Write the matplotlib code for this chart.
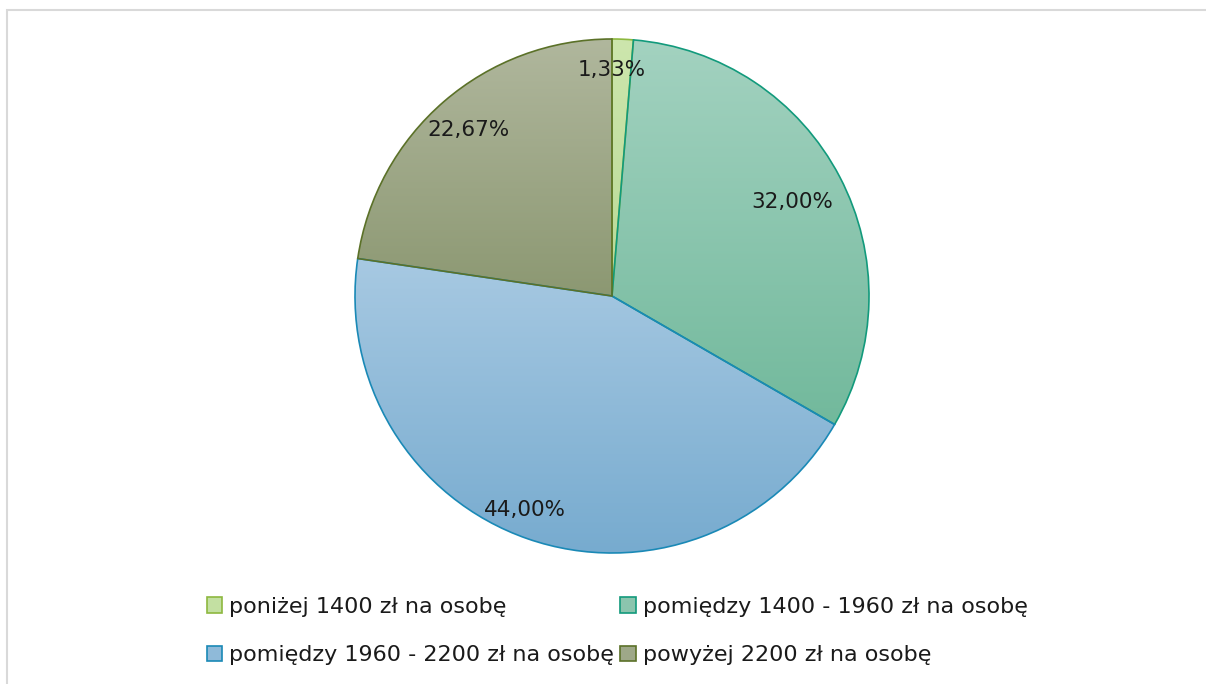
import matplotlib.pyplot as plt
import numpy as np
from matplotlib.colors import LinearSegmentedColormap, to_rgb
from matplotlib.patches import Patch, Rectangle

labels = ['poniżej 1400 zł na osobę', 'pomiędzy 1400 - 1960 zł na osobę',
          'pomiędzy 1960 - 2200 zł na osobę', 'powyżej 2200 zł na osobę']
shares = [1.33, 32.00, 44.00, 22.67]

# gradient (top, bottom) and outline colour per slice
tops = ['#cde6ad', '#a3d2c0', '#a7c9e2', '#b0b79d']
bottoms = ['#b9d996', '#72b99c', '#77abcf', '#8c9872']
edges = ['#8db83f', '#129a7c', '#1a89b6', '#5b7128']
label_dist = [0.88, 0.79, 0.90, 0.855]
label_shift = [0, 0, -3, 0]  # degrees

fig = plt.figure(figsize=(12.06, 6.84), dpi=100)
fig.patches.append(Rectangle((7 / 1206, -0.2), 1.2, 0.2 + (684 - 10) / 684, transform=fig.transFigure,
                             fill=False, edgecolor='#d9d9d9', linewidth=1.5))

ax = fig.add_axes([355 / 1206, (684 - 553) / 684, 514 / 1206, 514 / 684])
wedges, _ = ax.pie(shares, startangle=90, counterclock=False, radius=1,
                   wedgeprops=dict(linewidth=1.2, zorder=3))

grad = np.linspace(0, 1, 256).reshape(-1, 1)
for w, top, bot, ec in zip(wedges, tops, bottoms, edges):
    w.set_facecolor('none')
    w.set_edgecolor(ec)
    bb = w.get_path().get_extents()
    cmap = LinearSegmentedColormap.from_list('g', [top, bot])
    im = ax.imshow(grad, cmap=cmap, aspect='auto', zorder=2,
                   extent=[bb.x0, bb.x1, bb.y0, bb.y1], origin='upper')
    im.set_clip_path(w)

# percentage labels
for w, v, d, s in zip(wedges, shares, label_dist, label_shift):
    ang = (w.theta1 + w.theta2) / 2 + s
    if v < 2:
        ang = 90
    ang = np.deg2rad(ang)
    txt = f'{v:.2f}%'.replace('.', ',')
    ax.text(d * np.cos(ang), d * np.sin(ang), txt, ha='center', va='center',
            fontsize=15.5, color='#1a1a1a', zorder=5)

ax.set_xlim(-1, 1)
ax.set_ylim(-1, 1)
ax.set_aspect('equal')
ax.axis('off')

handles = [Patch(facecolor=(np.array(to_rgb(t)) + np.array(to_rgb(b))) / 2,
                 edgecolor=e, linewidth=1.2) for t, b, e in zip(tops, bottoms, edges)]
# legend fills column by column, so reorder to read row by row
order = [0, 2, 1, 3]
fig.legend([handles[i] for i in order], [labels[i] for i in order], ncol=2, loc='center',
           bbox_to_anchor=(617 / 1206, 1 - 631 / 684),
           frameon=False, fontsize=16, handlelength=0.7, handleheight=0.7,
           handletextpad=0.3, columnspacing=0.3, labelspacing=1.3, labelcolor='#1a1a1a')

fig.savefig('out.png', dpi=100)
